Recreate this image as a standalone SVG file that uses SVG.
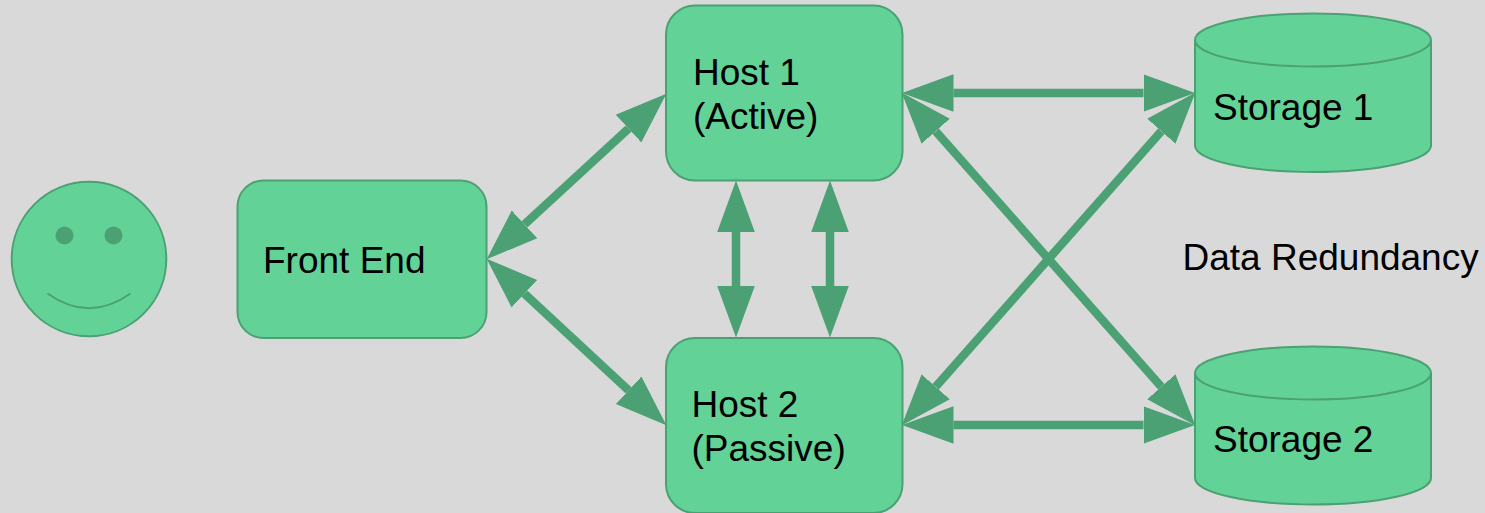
<svg xmlns="http://www.w3.org/2000/svg" width="1485" height="513" viewBox="0 0 1485 513">
<style>
.n{fill:#63d297;stroke:#4ba173;stroke-width:2}
.o{fill:none;stroke:#4ba173;stroke-width:2}
.c{stroke:#4ba173;stroke-width:8.5;fill:none;marker-start:url(#h);marker-end:url(#h)}
text{font-family:"Liberation Sans",Arial,sans-serif;font-size:37px;fill:#000}
</style>
<defs>
<marker id="h" markerUnits="userSpaceOnUse" markerWidth="53" markerHeight="40" refX="0" refY="20" orient="auto-start-reverse">
<path d="M0,1.2L51.5,20L0,38.8z" fill="#4ba173"/>
</marker>
</defs>
<rect width="1485" height="513" fill="#d9d9d9"/>
<g id="connectors">
<line class="c" x1="953.5" y1="93" x2="1143.500" y2="93"/>
<line class="c" x1="953.5" y1="425" x2="1143.500" y2="425"/>
<line class="c" x1="736" y1="232" x2="736" y2="286"/>
<line class="c" x1="830" y1="232" x2="830" y2="286"/>
<line class="c" x1="524.5" y1="224.4" x2="628.5" y2="128.6"/>
<line class="c" x1="524.4" y1="293.7" x2="628.6" y2="390.3"/>
<line class="c" x1="935.7" y1="131.2" x2="1161.3" y2="386.8"/>
<line class="c" x1="935.7" y1="386.8" x2="1161.3" y2="131.2"/>
</g>
<g id="user">
<circle class="n" cx="89" cy="259" r="77.300"/>
<circle cx="64.5" cy="235.500" r="9" fill="#4ba173"/>
<circle cx="113.5" cy="235.500" r="9" fill="#4ba173"/>
<path class="o" d="M47.500,293.500Q89,323 130.500,293.500"/>
</g>
<g id="front-end">
<rect class="n" x="237.500" y="180.500" width="249" height="157.500" rx="26"/>
<text x="263" y="273">Front End</text>
</g>
<g id="host-1">
<rect class="n" x="666" y="5.500" width="236.500" height="175" rx="29"/>
<text x="693" y="85">Host 1</text>
<text x="693" y="129">(Active)</text>
</g>
<g id="host-2">
<rect class="n" x="666" y="338" width="236.500" height="175" rx="29"/>
<text x="691.500" y="417">Host 2</text>
<text x="691.500" y="461">(Passive)</text>
</g>
<g id="storage-1">
<path class="n" d="M1195,40A118,26.500 0 0 1 1431,40V145.500A118,26.500 0 0 1 1195,145.500z"/>
<path class="o" d="M1195,40A118,26.500 0 0 0 1431,40"/>
<text x="1213" y="120">Storage 1</text>
</g>
<g id="storage-2">
<path class="n" d="M1195,373A118,26.500 0 0 1 1431,373V478A118,26.500 0 0 1 1195,478z"/>
<path class="o" d="M1195,373A118,26.500 0 0 0 1431,373"/>
<text x="1213" y="452">Storage 2</text>
</g>
<g id="data-redundancy">
<text x="1182.500" y="270">Data Redundancy</text>
</g>
</svg>
